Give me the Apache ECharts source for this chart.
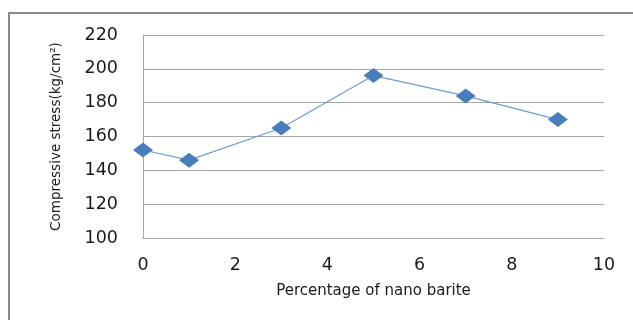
<!DOCTYPE html>
<html>
<head>
<meta charset="utf-8">
<script src="https://cdn.jsdelivr.net/npm/echarts@6/dist/echarts.min.js"></script>
<style>
  html, body { margin: 0; padding: 0; background: #fff; }
  #chart { width: 633px; height: 320px; }
</style>
</head>
<body>
<div id="chart"></div>
<script>
// Nano barite content (%) and measured compressive stress (kg/cm²)
const bariteContent = [0, 1, 3, 5, 7, 9];
const compressiveStress = [152, 146, 165, 196, 184, 170];

const xTicks = { min: 0, max: 10, interval: 2 };
const yTicks = { min: 100, max: 220, interval: 20 };

const points = bariteContent.map((x, i) => [x, compressiveStress[i]]);

const chart = echarts.init(document.getElementById('chart'), null, { renderer: 'canvas' });

const labelFont = { fontFamily: 'DejaVu Sans', fontSize: 17.5, color: '#1a1a1a' };
const gridColor = '#a6a6a6';

chart.setOption({
  animation: false,
  backgroundColor: '#ffffff',
  graphic: [{
    type: 'rect',
    shape: { x: 9, y: 13, width: 700, height: 400 },
    style: { fill: 'none', stroke: '#8a8a8a', lineWidth: 2 },
    silent: true
  }],
  grid: { left: 143, top: 35, width: 461, height: 203, containLabel: false },
  xAxis: {
    type: 'value',
    min: xTicks.min, max: xTicks.max, interval: xTicks.interval,
    name: 'Percentage of nano barite',
    nameLocation: 'middle',
    nameGap: 46,
    nameTextStyle: { fontFamily: 'DejaVu Sans', fontSize: 15, color: '#1a1a1a' },
    axisLine: { show: true, lineStyle: { color: gridColor, width: 1 } },
    axisTick: { show: false },
    axisLabel: { margin: 18, ...labelFont },
    splitLine: { show: false }
  },
  yAxis: {
    type: 'value',
    min: yTicks.min, max: yTicks.max, interval: yTicks.interval,
    name: 'Compressive stress(kg/cm²)',
    nameLocation: 'middle',
    nameGap: 80,
    nameTextStyle: { fontFamily: 'DejaVu Sans', fontSize: 13.5, color: '#1a1a1a' },
    axisLine: { show: true, lineStyle: { color: gridColor, width: 1 } },
    axisTick: { show: false },
    axisLabel: { margin: 25, ...labelFont },
    splitLine: { show: true, lineStyle: { color: gridColor, width: 1 } }
  },
  series: [{
    type: 'line',
    data: points,
    symbol: 'diamond',
    symbolSize: [20, 15],
    lineStyle: { color: '#6f9bd3', width: 1.2 },
    itemStyle: { color: '#4a7ebb', borderColor: '#4a7ebb', borderWidth: 0 }
  }]
});
</script>
</body>
</html>
